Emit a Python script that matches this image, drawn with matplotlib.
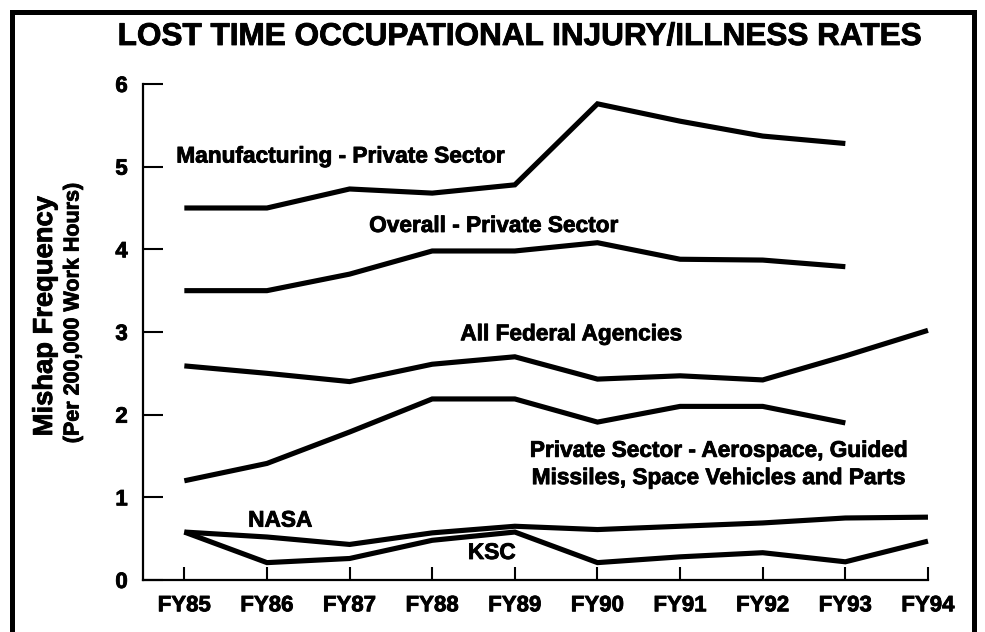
import numpy as np
import matplotlib
matplotlib.use('Agg')
import matplotlib.pyplot as plt
import matplotlib.patheffects as pe
from matplotlib.patches import Rectangle

years = ['FY85', 'FY86', 'FY87', 'FY88', 'FY89', 'FY90', 'FY91', 'FY92', 'FY93', 'FY94']

manufacturing = [4.5, 4.5, 4.73, 4.68, 4.78, 5.76, 5.55, 5.37, 5.28]
overall = [3.5, 3.5, 3.7, 3.98, 3.98, 4.08, 3.88, 3.87, 3.79]
federal = [2.59, 2.5, 2.4, 2.61, 2.7, 2.43, 2.47, 2.42, 2.71, 3.02]
aerospace = [1.2, 1.41, 1.79, 2.19, 2.19, 1.91, 2.1, 2.1, 1.9]
nasa = [0.58, 0.52, 0.43, 0.57, 0.65, 0.61, 0.65, 0.69, 0.75, 0.76]
ksc = [0.58, 0.21, 0.26, 0.48, 0.58, 0.21, 0.28, 0.33, 0.22, 0.47]

yticks = [0, 1, 2, 3, 4, 5, 6]

# slight stroke so the text looks as heavy as the scanned original
heavy = [pe.withStroke(linewidth=0.6, foreground='black')]

def drawLine(ax, values):
	x = np.arange(len(values))
	ax.plot(x, values, color='black', linewidth=3.7, solid_joinstyle='miter',
		solid_capstyle='butt', clip_on=False)

def label(ax, x, y, s, ha='center'):
	ax.text(x, y, s, fontsize=16.3, fontweight='bold', ha=ha, va='baseline', path_effects=heavy)

def main():
	plt.rcParams['font.family'] = ['Liberation Sans', 'DejaVu Sans']
	plt.rcParams['font.weight'] = 'bold'

	fig = plt.figure(figsize=(9.85, 6.32), dpi=100)
	ax = fig.add_axes([0.1452, 0.0823, 0.7969, 0.7848])

	for series in [manufacturing, overall, federal, aerospace, nasa, ksc]:
		drawLine(ax, series)

	ax.set_xlim(-0.5, 9)
	ax.set_ylim(0, 6)
	ax.spines['top'].set_visible(False)
	ax.spines['right'].set_visible(False)
	ax.spines['left'].set_linewidth(1.6)
	ax.spines['bottom'].set_linewidth(1.6)

	ax.set_xticks(np.arange(len(years)))
	ax.set_xticklabels(years)
	ax.set_yticks(yticks)
	ax.set_yticklabels([str(t) for t in yticks])
	ax.tick_params(axis='x', direction='in', length=9.4, width=1.5, pad=11, labelsize=16)
	ax.tick_params(axis='y', direction='in', length=14.4, width=1.5, pad=11, labelsize=16)
	for lab in ax.get_xticklabels() + ax.get_yticklabels():
		lab.set_fontweight('bold')
		lab.set_path_effects(heavy)

	# series labels
	label(ax, -0.097, 5.05, 'Manufacturing - Private Sector', ha='left')
	label(ax, 3.74, 4.21, 'Overall - Private Sector')
	label(ax, 4.68, 2.90, 'All Federal Agencies')
	label(ax, 6.46, 1.49, 'Private Sector - Aerospace, Guided')
	label(ax, 6.46, 1.16, 'Missiles, Space Vehicles and Parts')
	label(ax, 1.16, 0.645, 'NASA')
	label(ax, 3.72, 0.254, 'KSC')

	fig.text(0.527, 1 - 45 / 632, 'LOST TIME OCCUPATIONAL INJURY/ILLNESS RATES',
		fontsize=22.7, fontweight='bold', ha='center', va='baseline', path_effects=heavy)
	fig.text(45 / 985, 1 - 316 / 632, 'Mishap Frequency', fontsize=19.7, fontweight='bold',
		rotation=90, ha='center', va='center', path_effects=heavy)
	fig.text(73 / 985, 1 - 313 / 632, '(Per 200,000 Work Hours)', fontsize=15.5, fontweight='bold',
		rotation=90, ha='center', va='center', path_effects=heavy)

	# outer frame
	frame = Rectangle((12 / 985, -0.05), (974 - 12) / 985, 1.05 - 12 / 632, transform=fig.transFigure,
		fill=False, edgecolor='black', linewidth=3.6)
	fig.patches.append(frame)

	fig.savefig('out.png', dpi=100, facecolor='white')

main()
